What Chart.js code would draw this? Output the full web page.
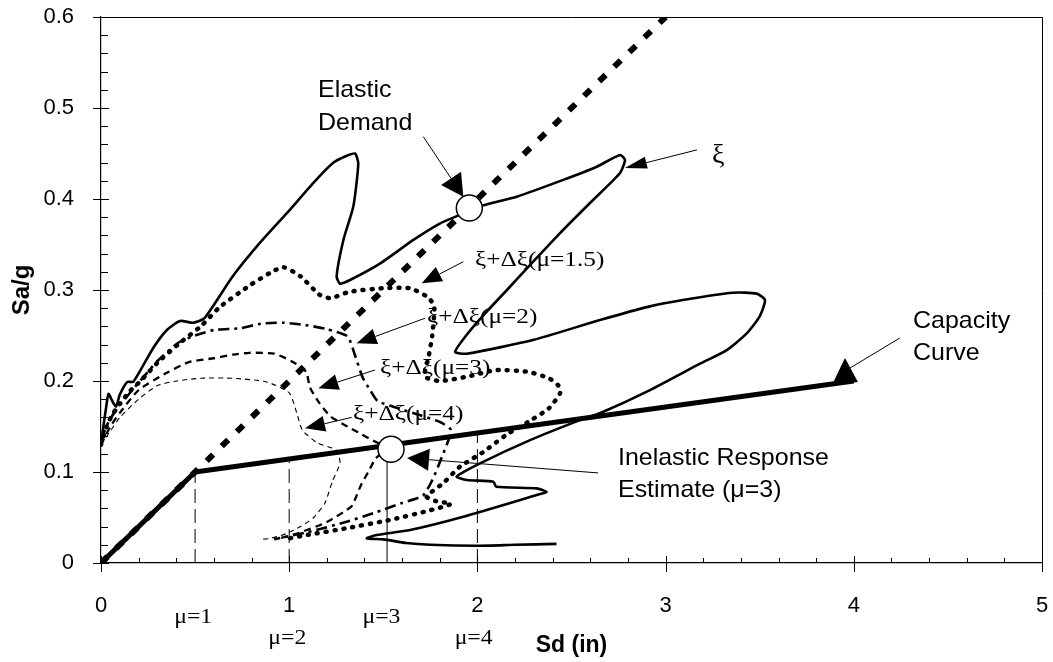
<!DOCTYPE html>
<html><head><meta charset="utf-8">
<script src="https://cdn.jsdelivr.net/npm/chart.js@4.4.1/dist/chart.umd.min.js"></script>
<style>html,body{margin:0;padding:0;background:#fff;}canvas{display:block;}</style>
</head><body>
<canvas id="c" width="1053" height="662"></canvas>
<script>
// ---------- DATA ----------
const xTickLabels = ['0','1','2','3','4','5'];
const yTickLabels = ['0','0.1','0.2','0.3','0.4','0.5','0.6'];

const capacitySd = [0, 0.5, 4.0];
const capacitySa = [0, 0.1, 0.2];

const elasticSd = [0, 3.0];
const elasticSa = [0, 0.6];

const xiSd = [0.00,0.01,0.03,0.04,0.06,0.08,0.10,0.14,0.17,0.21,
  0.28,0.35,0.42,0.49,0.55,0.70,0.845,0.99,1.13,1.235,
  1.30,1.35,1.367,1.341,1.288,1.252,1.27,1.323,1.482,1.66,
  1.80,1.90,2.031,2.209,2.456,2.634,2.758,2.784,2.758,2.598,
  2.439,2.295,2.157,2.023,1.934,1.881,1.943,2.295,2.651,2.917,
  3.092,3.358,3.484,3.528,3.50,3.43,3.325,3.183,2.917,2.651,
  2.545,2.28,2.014,1.89,1.943,2.085,2.10,2.315,2.368,2.315,
  1.925,1.642,1.465,1.412,1.5,1.62,1.75,2.0,2.2,2.42];
const xiSa = [0.130,0.146,0.175,0.186,0.178,0.172,0.185,0.199,0.199,0.212,
  0.237,0.256,0.266,0.264,0.269,0.315,0.352,0.385,0.418,0.440,
  0.447,0.450,0.439,0.392,0.355,0.315,0.307,0.311,0.329,0.355,
  0.373,0.382,0.393,0.4025,0.421,0.4355,0.4484,0.4429,0.4286,0.3956,
  0.3626,0.3308,0.300,0.2703,0.2484,0.2319,0.230,0.245,0.267,0.282,
  0.289,0.297,0.296,0.289,0.271,0.252,0.234,0.219,0.190,0.1645,
  0.157,0.135,0.1095,0.095,0.0912,0.0893,0.0838,0.082,0.078,0.0747,
  0.0509,0.0363,0.0308,0.0271,0.026,0.022,0.020,0.019,0.020,0.021];

const mu15Sd = [0.00,0.03,0.06,0.10,0.15,0.21,0.30,0.42,0.53,0.63,
  0.79,0.90,0.97,1.06,1.16,1.22,1.32,1.50,1.64,1.73,
  1.77,1.76,1.74,1.72,1.80,1.95,2.10,2.27,2.38,2.43,
  2.44,2.38,2.27,2.155,2.031,1.908,1.82,1.73,1.78,1.86,
  1.75,1.55,1.30,1.10,0.97];
const mu15Sa = [0.130,0.150,0.163,0.175,0.188,0.200,0.220,0.242,0.260,0.281,
  0.305,0.319,0.325,0.315,0.295,0.291,0.298,0.302,0.302,0.293,
  0.283,0.250,0.226,0.205,0.200,0.205,0.212,0.210,0.203,0.195,
  0.187,0.170,0.155,0.141,0.122,0.106,0.088,0.073,0.068,0.065,
  0.058,0.048,0.038,0.031,0.026];

const mu2Sd = [0.00,0.04,0.08,0.15,0.22,0.30,0.41,0.50,0.60,0.74,
  0.85,0.97,1.10,1.20,1.31,1.35,1.39,1.43,1.47,1.58,
  1.70,1.80,1.86,1.81,1.76,1.71,1.60,1.45,1.30,1.10,
  0.92];
const mu2Sa = [0.135,0.155,0.168,0.186,0.203,0.222,0.242,0.250,0.256,0.258,
  0.263,0.264,0.261,0.257,0.249,0.228,0.204,0.190,0.178,0.170,
  0.162,0.155,0.146,0.116,0.091,0.074,0.066,0.055,0.045,0.034,
  0.026];

const mu3Sd = [0.00,0.05,0.10,0.20,0.35,0.47,0.60,0.70,0.79,0.92,
  1.02,1.09,1.11,1.16,1.22,1.31,1.38,1.45,1.52,1.46,
  1.42,1.38,1.35,1.33,1.20,1.05,0.93];
const mu3Sa = [0.130,0.150,0.165,0.190,0.209,0.221,0.225,0.229,0.231,0.230,
  0.221,0.210,0.193,0.176,0.161,0.150,0.142,0.134,0.126,0.115,
  0.100,0.085,0.070,0.062,0.045,0.033,0.026];

const mu4Sd = [0.00,0.05,0.10,0.20,0.30,0.40,0.53,0.70,0.88,1.00,
  1.04,1.07,1.15,1.25,1.27,1.23,1.19,1.13,1.06,0.98,
  0.90,0.85];
const mu4Sa = [0.130,0.145,0.160,0.180,0.195,0.200,0.203,0.203,0.199,0.187,
  0.165,0.146,0.132,0.124,0.110,0.090,0.066,0.050,0.040,0.032,
  0.027,0.026];

const muLineSd  = [0.5, 1.0, 1.52, 2.0];
const muLineTop = [0.1, 0.114, 0.113, 0.143];
const muAxisLabels = ['μ=1','μ=2','μ=3','μ=4'];

const elasticPoint   = [1.957, 0.390];
const inelasticPoint = [1.541, 0.125];

// ---------- ANNOTATION LAYOUT (data coords) ----------
const SANS = '"Liberation Sans", Arial, Helvetica, sans-serif';
const SERIF = '"Liberation Serif", "Times New Roman", serif';
const arrows = [
  {from:[1.7125,0.4685], to:[1.925,0.4025], len:22, half:12},
  {from:[3.167,0.454],  to:[2.784,0.434],  len:22, half:6},
  {from:[1.925,0.3311], to:[1.704,0.3073], len:20, half:8},
  {from:[1.722,0.269],  to:[1.358,0.2414], len:20, half:8},
  {from:[1.456,0.2121], to:[1.155,0.192],  len:20, half:8},
  {from:[1.332,0.160],  to:[1.084,0.148],  len:20, half:8},
  {from:[2.641,0.099],  to:[1.626,0.1154], len:22, half:11}
];
const capArrowLine = [[4.245,0.2473],[3.98,0.2143]];
const capArrowHead = [[3.953,0.2253],[4.022,0.1989],[3.884,0.1956]];
const textLabels = [
  {text:'Elastic', at:[1.153,0.519], font:'24px '+SANS, sx:1.04},
  {text:'Demand', at:[1.153,0.4826], font:'24px '+SANS, sx:1.04},
  {text:'ξ', at:[3.247,0.448], font:'28px '+SERIF, sx:1},
  {text:'ξ+Δξ(μ=1.5)', at:[1.987,0.333], font:'22px '+SERIF, sx:1.15},
  {text:'ξ+Δξ(μ=2)', at:[1.732,0.270], font:'22px '+SERIF, sx:1.15},
  {text:'ξ+Δξ(μ=3)', at:[1.482,0.214], font:'22px '+SERIF, sx:1.15},
  {text:'ξ+Δξ(μ=4)', at:[1.339,0.164], font:'22px '+SERIF, sx:1.15},
  {text:'Capacity', at:[4.315,0.265], font:'24px '+SANS, sx:1.04},
  {text:'Curve', at:[4.315,0.2308], font:'24px '+SANS, sx:1.04},
  {text:'Inelastic Response', at:[2.747,0.1154], font:'24px '+SANS, sx:1.04},
  {text:'Estimate (μ=3)', at:[2.747,0.0802], font:'24px '+SANS, sx:1.04}
];
const muLabelX = [0.49, 0.99, 1.49, 1.98];
const muLabelDy = [54, 75, 54, 75];

// ---------- BUILD ----------
const pts = (sd, sa) => sd.map((v,i)=>({x:v, y:sa[i]}));
const base = {showLine:true, pointRadius:0, borderColor:'#000', backgroundColor:'#000', fill:false, borderJoinStyle:'round'};

const datasets = [
  {data:[{x:elasticPoint[0],y:elasticPoint[1]},{x:inelasticPoint[0],y:inelasticPoint[1]}],
   showLine:false, pointRadius:13, pointBackgroundColor:'#fff', pointBorderColor:'#000', pointBorderWidth:1.5},
  {...base, data:pts(capacitySd, capacitySa), borderWidth:5, tension:0},
  {...base, data:pts(xiSd, xiSa), borderWidth:2.6, tension:0.2},
  {...base, data:pts(elasticSd, elasticSa), borderWidth:6, borderDash:[9,12], tension:0, borderCapStyle:'butt'},
  {...base, data:pts(mu15Sd, mu15Sa), borderWidth:4.5, borderDash:[1,8], borderCapStyle:'round', tension:0.2},
  {...base, data:pts(mu2Sd, mu2Sa), borderWidth:2.6, borderDash:[11,5,3,5], tension:0.2},
  {...base, data:pts(mu3Sd, mu3Sa), borderWidth:2.3, borderDash:[7,5], tension:0.2},
  {...base, data:pts(mu4Sd, mu4Sa), borderWidth:1.1, borderDash:[5,4], tension:0.2}
];
muLineSd.forEach((sd,i)=>{
  datasets.push({...base, data:[{x:sd,y:0},{x:sd,y:muLineTop[i]}], borderWidth:1,
    borderDash: i===2 ? [] : [14,6], tension:0});
});

const annot = {
  id:'annot',
  afterDatasetsDraw(chart){
    const {ctx, chartArea:a, scales:{x,y}} = chart;
    const P = d => [x.getPixelForValue(d[0]), y.getPixelForValue(d[1])];
    ctx.save();
    ctx.fillStyle='#000'; ctx.strokeStyle='#000'; ctx.lineWidth=1;
    arrows.forEach(ar=>{
      const [x0,y0]=P(ar.from), [x1,y1]=P(ar.to);
      const dx=x1-x0, dy=y1-y0, L=Math.hypot(dx,dy), ux=dx/L, uy=dy/L;
      const bx=x1-ux*ar.len, by=y1-uy*ar.len;
      ctx.beginPath(); ctx.moveTo(x0,y0); ctx.lineTo(bx,by); ctx.stroke();
      ctx.beginPath(); ctx.moveTo(x1,y1);
      ctx.lineTo(bx-uy*ar.half, by+ux*ar.half);
      ctx.lineTo(bx+uy*ar.half, by-ux*ar.half);
      ctx.closePath(); ctx.fill();
    });
    let p0=P(capArrowLine[0]), p1=P(capArrowLine[1]);
    ctx.beginPath(); ctx.moveTo(p0[0],p0[1]); ctx.lineTo(p1[0],p1[1]); ctx.stroke();
    ctx.beginPath();
    capArrowHead.forEach((d,i)=>{const p=P(d); i?ctx.lineTo(p[0],p[1]):ctx.moveTo(p[0],p[1]);});
    ctx.closePath(); ctx.fill();
    ctx.textAlign='left'; ctx.textBaseline='middle';
    textLabels.forEach(l=>{
      const [px,py]=P(l.at);
      ctx.save(); ctx.font=l.font; ctx.translate(px,py); ctx.scale(l.sx,1); ctx.fillText(l.text,0,0); ctx.restore();
    });
    ctx.textAlign='center';
    muAxisLabels.forEach((t,i)=>{
      const px=x.getPixelForValue(muLabelX[i]);
      ctx.save(); ctx.font='22px '+SERIF; ctx.translate(px, a.bottom+muLabelDy[i]); ctx.scale(1.08,1); ctx.fillText(t,0,0); ctx.restore();
    });
    ctx.restore();
  },
  afterDraw(chart){
    const {ctx, chartArea:a, scales:{x,y}} = chart;
    ctx.save(); ctx.strokeStyle='#000'; ctx.lineWidth=1;
    ctx.beginPath();
    ctx.moveTo(a.left, a.top+0.5); ctx.lineTo(a.right+0.5, a.top+0.5); ctx.lineTo(a.right+0.5, a.bottom);
    for(let i=0;i<=30;i++){
      const py=Math.round(y.getPixelForValue(i*0.02))+0.5, major=i%5===0;
      ctx.moveTo(major? a.left-8 : a.left, py); ctx.lineTo(a.left+(major?8:7), py);
    }
    for(let i=0;i<=25;i++){
      const px=Math.round(x.getPixelForValue(i*0.2))+0.5, major=i%5===0;
      ctx.moveTo(px, a.bottom+(major?9:0)); ctx.lineTo(px, a.bottom-(major?7:5));
    }
    ctx.stroke(); ctx.restore();
  }
};

function zeroPad(s){ s.paddingTop=0; s.paddingBottom=0; s.paddingLeft=0; s.paddingRight=0; }

new Chart(document.getElementById('c'), {
  type:'scatter',
  data:{datasets},
  options:{
    responsive:false, animation:false, devicePixelRatio:1,
    layout:{autoPadding:false, padding:{left:0,right:11,top:17,bottom:0}},
    plugins:{legend:{display:false}, tooltip:{enabled:false}},
    elements:{line:{borderColor:'#000'}},
    scales:{
      x:{type:'linear', min:0, max:5,
        afterFit(s){s.height=99; zeroPad(s);},
        grid:{display:false},
        border:{display:true, color:'#000', width:1.2},
        ticks:{stepSize:1, padding:22, color:'#000', maxRotation:0, autoSkip:false,
          font:{family:SANS, size:22}, callback:v=>xTickLabels[Math.round(v)]},
        title:{display:true, text:'Sd (in)', color:'#000', font:{family:SANS, size:23, weight:'bold'}, padding:{top:4,bottom:3}}
      },
      y:{type:'linear', min:0, max:0.6,
        afterFit(s){s.width=101; zeroPad(s);},
        grid:{display:false},
        border:{display:true, color:'#000', width:1.2},
        ticks:{stepSize:0.1, padding:19, color:'#000',
          font:{family:SANS, size:22}, callback:v=>yTickLabels[Math.round(v*10)]},
        title:{display:true, text:'Sa/g', color:'#000', font:{family:SANS, size:24, weight:'bold'}, padding:{top:8,bottom:4}}
      }
    }
  },
  plugins:[annot]
});
</script>
</body></html>
